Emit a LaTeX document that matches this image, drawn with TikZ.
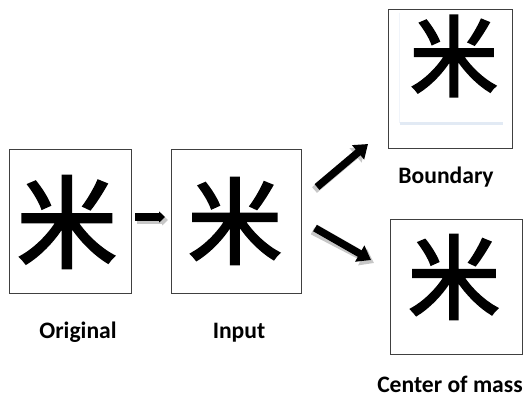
\documentclass[tikz,border=0pt]{standalone}
\usepackage{fontspec}
\setmainfont{Carlito}
\newfontfamily\cjk{Noto Sans CJK SC}[FakeBold=2.6]
\usetikzlibrary{arrows.meta}
\definecolor{faintblue}{RGB}{226,234,244}
\definecolor{faintline}{RGB}{240,244,250}
\begin{document}
\begin{tikzpicture}[x=1pt,y=-1pt,
  imgbox/.style={draw=black!75,line width=0.9pt,fill=white,inner sep=0pt},
  glyph/.style={inner sep=0pt,font=\cjk\fontsize{#1}{#1}\selectfont},
  lbl/.style={inner sep=0pt,anchor=base,font=\bfseries\fontsize{23.6}{23.6}\selectfont},
  blkarrow/.style={line width=7.5pt,-{Triangle[width=18pt,length=13pt]}},
  smallarrow/.style={line width=8pt,-{Triangle[width=11pt,length=6pt]}},
  shadow/.style={draw=black!22},
]
\useasboundingbox (0,0) rectangle (524,397);
% boxes
\node[imgbox,minimum width=122pt,minimum height=144pt] (orig) at (70,221) {};
\node[imgbox,minimum width=130pt,minimum height=144pt] (inp) at (236,221) {};
\node[imgbox,minimum width=124pt,minimum height=139pt] (bnd) at (450,78.5) {};
\node[imgbox,minimum width=132pt,minimum height=135pt] (com) at (456,286.5) {};
% faint marks in boundary box
\draw[draw=faintblue,line width=3pt] ([xshift=12pt,yshift=25pt]bnd.south west) -- ([xshift=-9pt,yshift=25pt]bnd.south east);
\draw[draw=faintline,line width=0.6pt] ([xshift=12pt,yshift=-4pt]bnd.north west) -- ([xshift=12pt,yshift=25pt]bnd.south west);
% characters
\node[glyph=100] (c1) at (67,222) {米};
\node[glyph=94] (c2) at (235,221) {米};
\node[glyph=88] (c3) at (454,56) {米};
\node[glyph=92] (c4) at (454,277) {米};
% labels
\node[lbl] (l1) at (78,338) {Original};
\node[lbl] (l2) at (239,338) {Input};
\node[lbl] (l3) at (446,183) {Boundary};
\node[lbl] (l4) at (450,392) {Center of mass};
% arrows
\coordinate (a1s) at (135,217);
\coordinate (a1e) at (165,217);
\coordinate (a2s) at (317,187);
\coordinate (a2e) at (368,144);
\coordinate (a3s) at (315,228);
\coordinate (a3e) at (371,260);
\draw[smallarrow,shadow] ([shift={(2,3)}]a1s) -- ([shift={(3,3)}]a1e);
\draw[smallarrow] (a1s) -- (a1e);
\draw[blkarrow,shadow] ([shift={(-2.5,3)}]a2s) -- ([shift={(-2.5,3)}]a2e);
\draw[blkarrow] (a2s) -- (a2e);
\draw[blkarrow,shadow] ([shift={(-2.5,3)}]a3s) -- ([shift={(3,3)}]a3e);
\draw[blkarrow] (a3s) -- (a3e);
\end{tikzpicture}
\end{document}
